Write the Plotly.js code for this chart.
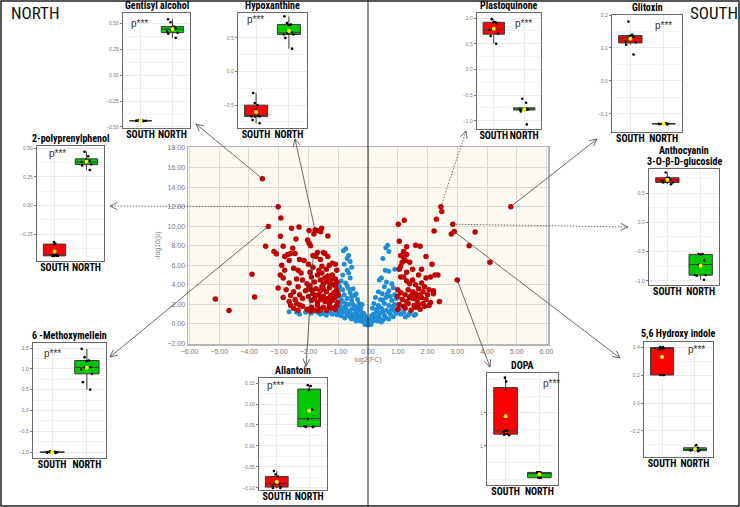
<!DOCTYPE html>
<html><head><meta charset="utf-8">
<script src="https://cdn.plot.ly/plotly-3.0.1.min.js"></script>
<style>html,body{margin:0;padding:0;background:#fff}#chart{width:740px;height:507px}</style>
</head><body><div id="chart"></div>
<script>
const W = 740, H = 507;

// ---------- volcano data: [log2(FC), -log10(p)] ----------
const redPoints = [
 [-3.55,14.85],[-3.02,12.0],[-2.93,10.85],[-3.35,9.97],[-2.94,8.98],[-3.44,7.95],[-2.85,7.95],[-3.16,7.4],[-3.08,7.17],
 [-3.9,5.08],[-3.81,2.76],[-3.02,3.69],[-5.13,2.56],[-4.67,1.37],
 [-2.57,9.8],[-2.32,9.93],[-2.42,8.7],[-2.03,8.6],[-1.98,9.56],[-1.78,9.62],[-1.59,9.42],[-1.56,9.8],[-1.35,9.0],[-1.98,8.26],[-1.93,7.99],[-1.82,9.2],[-1.72,9.55],
 [-2.53,7.75],[-2.6,7.2],[-2.7,7.1],[-2.45,7.2],[-2.8,6.9],[-2.3,6.6],[-2.15,6.5],[-1.85,7.0],[-1.75,6.9],[-1.7,7.3],[-1.5,7.3],[-1.45,7.2],[-1.35,6.9],[-1.6,6.6],[-1.2,6.2],[-1.05,5.5],[-1.3,6.0],[-1.55,5.9],[-2.9,6.0],[-2.65,6.5],[-2.5,5.7],[-2.0,6.1],[-1.85,5.8],[-2.35,5.5],[-2.8,5.5],[-1.4,5.6],[-1.1,6.1],[-1.65,5.5],
 [-2.85,4.7],[-2.65,4.2],[-2.4,4.6],[-2.2,4.5],[-2.05,4.1],[-1.9,4.8],[-1.8,4.3],[-1.7,5.0],[-1.6,4.5],[-1.5,4.1],[-1.45,4.7],[-1.35,4.9],[-1.3,4.2],[-1.25,4.5],[-1.15,4.0],[-1.1,4.6],[-1.05,4.3],[-2.25,5.2],[-1.95,5.3],[-1.55,5.2],[-1.2,5.0],[-1.4,4.4],[-2.95,5.0],
 [-2.75,3.5],[-2.6,2.9],[-2.5,3.3],[-2.45,2.5],[-2.35,3.8],[-2.3,3.0],[-2.2,2.6],[-2.1,3.4],[-2.0,2.8],[-1.95,3.9],[-1.9,2.4],[-1.85,3.1],[-1.8,2.6],[-1.75,3.6],[-1.7,2.2],[-1.65,3.0],[-1.6,2.5],[-1.55,3.8],[-1.5,2.8],[-1.45,2.3],[-1.4,3.3],[-1.35,2.6],[-1.3,3.7],[-1.25,2.9],[-1.2,2.4],[-1.15,3.2],[-1.1,2.7],[-1.05,3.5],[-1.02,2.2],[-1.0,3.0],[-2.85,2.7],[-2.65,2.3],[-2.0,3.6],[-1.6,3.4],[-1.3,2.1],[-1.75,2.9],[-2.4,2.1],[-1.9,3.5],[-1.1,3.9],[-1.5,3.6],
 [-2.5,1.6],[-2.35,1.4],[-2.2,1.8],[-2.05,1.5],[-1.9,1.7],[-1.8,1.4],[-1.7,1.9],[-1.6,1.5],[-1.5,1.7],[-1.4,1.4],[-1.3,1.8],[-1.2,1.6],[-1.1,1.5],[-1.05,1.9],[-2.6,1.9],[-2.3,1.95],[-1.95,1.3],[-1.65,1.35],
 [2.45,12.0],[2.48,11.5],[2.3,10.7],[1.22,10.6],[1.02,10.2],[2.22,9.5],[2.85,10.2],[2.9,9.45],[2.8,9.2],[3.6,9.4],[3.4,8.0],[4.1,6.3],[4.8,12.0],[3.0,4.5],[2.15,6.1],[2.4,2.3],
 [1.05,8.45],[1.3,7.9],[1.2,7.4],[1.6,8.05],[1.75,7.95],[1.95,6.9],[1.1,7.0],[1.2,6.8],[1.3,7.1],[1.25,6.5],[1.15,6.3],[1.4,6.3],[1.1,5.9],[1.05,5.6],[1.5,5.6],[1.8,5.6],[1.3,5.3],[1.2,4.8],[1.1,4.8],[2.25,5.0],[2.35,5.0],[2.1,4.8],[1.95,4.7],
 [1.4,4.1],[1.6,4.0],[1.8,4.2],[1.35,3.5],[1.5,3.3],[1.7,3.6],[1.9,3.8],[2.05,3.5],[2.2,3.4],[1.1,3.2],[1.25,3.0],[1.45,2.9],[1.6,3.1],[1.75,3.0],[1.85,3.3],[2.0,3.0],[2.2,3.1],
 [1.0,2.8],[1.15,2.5],[1.3,2.3],[1.5,2.6],[1.65,2.4],[1.8,2.7],[1.95,2.5],[2.1,2.2],[1.05,2.0],[1.2,1.8],[1.35,2.1],[1.55,1.9],[1.7,2.0],[1.9,1.8],[2.05,1.9],[1.0,1.5],[1.25,1.6],[1.45,1.4],[1.6,1.7],[1.75,1.5],[1.85,2.1],[1.4,2.7],[1.65,2.8],[1.5,4.5],[1.7,5.0],[1.3,4.4],[1.0,3.5]
];
const bluePoints = [
 [-0.75,7.7],[-0.83,7.5],[-0.65,7.0],[-0.7,6.7],[-0.6,6.4],[-0.8,6.1],[-0.55,5.8],[-0.7,5.5],[-0.65,5.2],[-0.85,5.0],[-0.6,4.7],[-0.9,4.4],[-0.75,4.2],[-1.0,4.1],[-0.95,3.8],[-0.7,3.9],[-0.5,3.6],[-0.85,3.5],[-1.0,3.3],[-0.6,3.2],[-0.8,3.0],[-0.45,2.9],[-0.95,2.8],[-0.7,2.6],[-0.35,2.5],[-0.55,2.4],[-0.85,2.3],[-0.3,2.1],[-0.65,2.0],[-0.95,1.9],[-0.45,1.8],[-0.25,1.6],[-0.75,1.6],[-0.55,1.5],[-0.9,1.4],
 [-1.1,1.3],[-1.3,1.2],[-1.5,1.1],[-1.7,1.2],[-1.9,1.1],[-2.1,1.2],[-2.3,1.0],[-2.65,1.25],[-2.0,1.35],[-1.6,1.0],[-1.2,1.0],[-1.0,1.15],[-0.8,1.2],[-0.6,1.1],[-0.4,1.2],[-0.2,1.0],[-0.35,0.9],[-0.5,0.8],[-0.7,0.9],[-0.9,0.85],[-1.05,0.95],[-1.4,0.9],
 [-0.15,0.7],[-0.3,0.6],[-0.45,0.65],[-0.6,0.7],[-0.1,0.4],[-0.2,0.45],[-0.35,0.4],[-0.05,0.2],[-0.15,0.25],[-0.25,0.3],[0.0,0.1],[-0.08,0.15],[-0.4,1.4],[-0.5,2.0],[-0.25,1.3],[-0.15,1.1],[-0.65,1.3],[-0.8,1.7],[-1.0,1.6],[-1.15,1.7],[-1.25,1.5],[-0.1,0.8],[-0.3,1.7],[-0.2,2.0],[-0.55,2.8],[-0.4,3.1],[-0.65,3.6],[-0.75,2.1],[-0.9,2.5],[-0.35,1.5],[-0.05,0.5],[-0.12,0.9],[-1.8,1.4],[-2.4,1.2],[-1.35,1.35],[-0.95,1.1],[-0.78,0.6],[-0.55,0.5],[-0.22,0.75],[-0.02,0.3],[-0.4,0.3],[-0.55,1.0],
 [0.6,7.8],[0.66,8.05],[0.7,7.4],[0.5,6.7],[0.58,5.5],[0.7,5.4],[0.9,5.6],[0.45,4.7],[0.38,4.5],[0.62,4.3],[0.8,4.1],[0.55,3.8],[0.85,3.7],[0.35,3.3],[0.48,3.1],[0.7,3.4],[0.9,3.0],[0.25,2.7],[0.42,2.5],[0.6,2.7],[0.8,2.4],[0.95,2.6],[0.2,2.1],[0.35,1.9],[0.55,2.1],[0.7,1.9],[0.9,2.0],[0.15,1.6],[0.3,1.5],[0.45,1.6],[0.62,1.4],[0.8,1.5],[1.0,1.3],[1.2,1.2],[1.4,1.1],[1.55,0.9],[1.6,1.0],[1.25,0.7],[1.1,1.0],[0.95,1.1],[0.75,1.0],[0.55,0.9],[0.35,0.8],[0.2,0.7],[0.1,0.5],[0.25,0.45],[0.4,0.55],[0.6,0.6],[0.85,0.75],[0.05,0.2],[0.15,0.3],[0.3,0.3],[0.5,0.4],[0.02,0.1],[0.75,2.8],[0.65,3.1],[0.5,2.4],[0.28,1.2],[0.4,1.1],[0.18,1.0],[0.5,1.3],[0.7,1.25],[0.9,1.3],[1.05,1.5],[0.12,0.85],[0.45,0.2],[0.7,0.5],[1.35,0.9],[0.85,1.8],
 [0.0,-0.1],[-0.05,0.0],[0.05,0.0],[0.1,-0.05],[-0.1,-0.05]
];

// ---------- inset box-plot data ----------
const groups = ['SOUTH','NORTH'];
const gentisylSouth = [-0.44,-0.44,-0.445,-0.44,-0.435,-0.44,-0.44,-0.44,-0.44];
const gentisylNorth = [0.36,0.40,0.41,0.42,0.44,0.45,0.46,0.47,0.51,0.54];
const hypoxSouth = [-0.77,-0.72,-0.67,-0.67,-0.67,-0.66,-0.57,-0.5,-0.47,-0.32];
const hypoxNorth = [0.34,0.5,0.55,0.55,0.57,0.58,0.69,0.7,0.72,0.82];
const plastoSouth = [0.5,0.65,0.7,0.77,0.78,0.9,0.92,0.92,0.98];
const plastoNorth = [-1.07,-0.82,-0.78,-0.78,-0.78,-0.78,-0.78,-0.65,-0.57];
const glitoxinSouth = [0.08,0.11,0.117,0.12,0.13,0.135,0.137,0.14,0.18];
const glitoxinNorth = [-0.132,-0.13,-0.13,-0.13,-0.128,-0.13,-0.131,-0.129];
const polyprenylSouth = [-0.44,-0.44,-0.44,-0.44,-0.44,-0.43,-0.34,-0.33,-0.32];
const polyprenylNorth = [0.31,0.35,0.36,0.38,0.38,0.39,0.40,0.43,0.47];
const anthoSouth = [0.65,0.68,0.68,0.7,0.72,0.73,0.76,0.76,0.85];
const anthoNorth = [-0.98,-0.91,-0.9,-0.9,-0.72,-0.65,-0.55,-0.54,-0.54];
const methoxySouth = [-1.02,-1.0,-1.0,-1.0,-1.0,-1.0,-0.99,-0.98,-1.01];
const methoxyNorth = [0.5,0.68,0.88,0.98,1.03,1.04,1.18,1.2,1.28,1.48];
const allantoinSouth = [-0.1,-0.1,-0.098,-0.095,-0.09,-0.09,-0.085,-0.073,-0.068,-0.06];
const allantoinNorth = [0.045,0.046,0.046,0.047,0.065,0.087,0.133,0.143,0.145];
const dopaSouth = [0.66,0.67,0.68,0.71,0.73,0.73,1.35,1.47,1.53];
const dopaNorth = [0.02,0.02,0.02,0.1,0.1,0.1,0.1,0.1,0.1];
const hydroxySouth = [0.2,0.2,0.2,0.38,0.39,0.39,0.395,0.4,0.4];
const hydroxyNorth = [-0.345,-0.34,-0.34,-0.335,-0.33,-0.32,-0.32,-0.3];
const dopaTickVals = [0.5,1.0], dopaTickText = ['1','1'];

const FONT = 'Liberation Sans, Arial, sans-serif';
const NARROW = 'Liberation Sans Narrow, Roboto Condensed, DejaVu Sans Condensed, Liberation Sans, sans-serif';
const insets = [
 {title:['Gentisyl alcohol'], s:gentisylSouth, n:gentisylNorth, box:[123,190,13,128], yr:[-0.51,0.60], dt:0.25, fmt:'.2f', p:[129,23], from:[-3.55,14.85], tip:[196,124], dash:'solid'},
 {title:['Hypoxanthine'], s:hypoxSouth, n:hypoxNorth, box:[238,307,13,128], yr:[-0.84,0.87], dt:0.5, fmt:'.1f', p:[245,20], from:[-1.78,9.62], tip:[295,139], dash:'solid'},
 {title:['Plastoquinone'], s:plastoSouth, n:plastoNorth, box:[477,541,13,129], yr:[-1.16,1.1], dt:0.5, fmt:'.1f', p:[513,23], from:[2.45,12.0], tip:[466,131], dash:'dot'},
 {title:['Glitoxin'], s:glitoxinSouth, n:glitoxinNorth, box:[612,682,15,132], yr:[-0.155,0.2], dt:0.1, fmt:'.1f', p:[653,25], from:[4.8,12.0], tip:[597,139], dash:'solid'},
 {title:['2-polyprenylphenol'], s:polyprenylSouth, n:polyprenylNorth, box:[37,104,146,261], yr:[-0.485,0.52], dt:0.25, fmt:'.2f', p:[47,153], from:[-3.02,12.0], tip:[110,206], dash:'dot'},
 {title:['Anthocyanin','3-O-β-D-glucoside'], s:anthoSouth, n:anthoNorth, box:[649,719,169,285], yr:[-1.07,0.91], dt:0.5, fmt:'.1f', p:null, from:[2.85,10.2], tip:[628,227], dash:'dot'},
 {title:['6 -Methoxymellein'], s:methoxySouth, n:methoxyNorth, box:[33,106,343,458], yr:[-1.14,1.62], dt:0.5, fmt:'.1f', p:[42,353], from:[-3.35,9.97], tip:[110,357], dash:'solid'},
 {title:['Allantoin'], s:allantoinSouth, n:allantoinNorth, box:[259,327,378,490], yr:[-0.105,0.162], dt:0.05, fmt:'.2f', p:[265,385], from:[-1.84,7.0], tip:[306,366], dash:'solid'},
 {title:['DOPA'], s:dopaSouth, n:dopaNorth, box:[487,558,373,485], yr:[-0.09,1.6], tv:dopaTickVals, tt:dopaTickText, dt:0.5, fmt:'', p:[541,383], from:[3.0,4.5], tip:[490,367], dash:'solid'},
 {title:['5,6 Hydroxy indole'], s:hydroxySouth, n:hydroxyNorth, box:[644,713,342,457], yr:[-0.386,0.436], dt:0.2, fmt:'.1f', p:[686,349], from:[2.9,9.45], tip:[620,358], dash:'solid'}
];

const px = p => p / W, py = p => 1 - p / H;
const MAIN = {x0:188, x1:548, y0:147, y1:344, xr:[-6.05,6.05], yr:[-2.05,18.1]};
const dataPx = (x, y) => [MAIN.x0 + (x - MAIN.xr[0]) / (MAIN.xr[1] - MAIN.xr[0]) * (MAIN.x1 - MAIN.x0),
                          MAIN.y1 - (y - MAIN.yr[0]) / (MAIN.yr[1] - MAIN.yr[0]) * (MAIN.y1 - MAIN.y0)];

const data = [];
const layout = {
  width: W, height: H, margin:{l:0,r:0,t:0,b:0}, paper_bgcolor:'#fff', plot_bgcolor:'rgba(0,0,0,0)',
  showlegend:false, boxmode:'overlay', font:{family:FONT},
  annotations:[], shapes:[]
};

// main volcano
data.push({type:'scatter', mode:'markers', x:bluePoints.map(p=>p[0]), y:bluePoints.map(p=>p[1]),
  marker:{color:'#1f8dd6', size:5}, xaxis:'x', yaxis:'y', hoverinfo:'skip'});
data.push({type:'scatter', mode:'markers', x:redPoints.map(p=>p[0]), y:redPoints.map(p=>p[1]),
  marker:{color:'#c00000', size:5.5}, xaxis:'x', yaxis:'y', hoverinfo:'skip'});
layout.xaxis = {domain:[px(MAIN.x0), px(MAIN.x1)], range:MAIN.xr, anchor:'y', tick0:0, dtick:1, tickformat:'.2f',
  showgrid:true, gridcolor:'#d9d9d9', zeroline:false, showline:true, mirror:true, linecolor:'#b5b5b5', linewidth:1.5,
  ticks:'', tickfont:{size:7, color:'#777'}, title:{text:'log2(FC)', font:{size:7, color:'#777'}, standoff:3}};
layout.yaxis = {domain:[py(MAIN.y1), py(MAIN.y0)], range:MAIN.yr, anchor:'x', tick0:0, dtick:2, tickformat:'.2f',
  showgrid:true, gridcolor:'#d9d9d9', zeroline:false, showline:true, mirror:true, linecolor:'#b5b5b5', linewidth:1.5,
  ticks:'', tickfont:{size:7, color:'#777'}, title:{text:'-log10(p)', font:{size:7, color:'#777'}, standoff:6}};
layout.shapes.push({type:'rect', xref:'x', yref:'y', x0:MAIN.xr[0], x1:MAIN.xr[1], y0:MAIN.yr[0], y1:MAIN.yr[1],
  fillcolor:'#fdfbf1', line:{width:0}, layer:'below'});

const mean = a => a.reduce((s,v)=>s+v,0)/a.length;

insets.forEach((ins, i) => {
  const k = i + 2, xa = 'x'+k, ya = 'y'+k;
  const [x0,x1,y0,y1] = ins.box;
  layout['xaxis'+k] = {domain:[px(x0), px(x1)], anchor:ya, type:'category', categoryorder:'array', categoryarray:groups,
    range:[-0.55,1.55], showgrid:true, gridcolor:'#ebebeb', zeroline:false, showline:true, mirror:true,
    linecolor:'#6a6a6a', linewidth:1.2, ticks:'', tickangle:0, ticklabelstandoff:-3,
    tickfont:{size:10, color:'#000', family:NARROW, weight:'bold'}, fixedrange:true};
  const yax = {domain:[py(y1), py(y0)], anchor:xa, range:ins.yr, showgrid:true, gridcolor:'#ebebeb', zeroline:false,
    showline:true, mirror:true, linecolor:'#6a6a6a', linewidth:1.2, ticks:'outside', ticklen:2, tickcolor:'#777',
    tickfont:{size:5, color:'#777'}, minor:{dtick:ins.dt/2, showgrid:true, gridcolor:'#f3f3f3'}, fixedrange:true};
  if (ins.tv) { yax.tickmode='array'; yax.tickvals=ins.tv; yax.ticktext=ins.tt; yax.minor.tick0=0; }
  else { yax.tick0=0; yax.dtick=ins.dt; yax.tickformat=ins.fmt; yax.minor.tick0=0; }
  layout['yaxis'+k] = yax;

  [[groups[0], ins.s, '#ff0000'], [groups[1], ins.n, '#00c800']].forEach(([g, vals, col]) => {
    data.push({type:'box', x:vals.map(()=>g), y:vals, xaxis:xa, yaxis:ya, boxpoints:'all', jitter:0.6, pointpos:0,
      fillcolor:col, line:{color:'#3a3a3a', width:1}, whiskerwidth:0, width:0.7,
      marker:{color:'#000', size:2.6}, hoverinfo:'skip'});
    data.push({type:'scatter', mode:'markers', x:[g], y:[mean(vals)], xaxis:xa, yaxis:ya,
      marker:{color:'#ffff00', size:4}, hoverinfo:'skip'});
  });

  const nL = ins.title.length;
  ins.title.forEach((line, j) => {
    layout.annotations.push({xref:'paper', yref:'paper', x:px((x0+x1)/2), y:py(y0 - 1 - (nL-1-j)*10.5), xanchor:'center', yanchor:'bottom',
      text:'<b>'+line+'</b>', showarrow:false, font:{size:10, color:'#000', family:NARROW}, borderpad:0});
  });
  if (ins.p) layout.annotations.push({xref:'paper', yref:'paper', x:px(ins.p[0]), y:py(ins.p[1]), xanchor:'left', yanchor:'middle',
    text:'p***', showarrow:false, font:{size:10, color:'#333', family:FONT}});

  // connector arrow from volcano point to inset
  const [sx, sy] = dataPx(ins.from[0], ins.from[1]);
  const [tx, ty] = ins.tip;
  layout.shapes.push({type:'line', xref:'paper', yref:'paper', x0:px(sx), y0:py(sy), x1:px(tx), y1:py(ty),
    line:{color:'#444', width:0.8, dash:ins.dash === 'dot' ? '1.5px,1.5px' : 'solid'}});
  const ang = Math.atan2(ty - sy, tx - sx), L = 8, spread = 0.45;
  [ang + Math.PI - spread, ang + Math.PI + spread].forEach(a => {
    layout.shapes.push({type:'line', xref:'paper', yref:'paper', x0:px(tx), y0:py(ty),
      x1:px(tx + L*Math.cos(a)), y1:py(ty + L*Math.sin(a)), line:{color:'#444', width:0.8}});
  });
});

// frame, divider and region labels
layout.shapes.push({type:'line', xref:'paper', yref:'paper', x0:px(368), x1:px(368), y0:0, y1:1, line:{color:'#222', width:1}, layer:'above'});
layout.shapes.push({type:'rect', xref:'paper', yref:'paper', x0:px(1), x1:px(739), y0:py(506), y1:py(1), line:{color:'#222', width:1.5}, fillcolor:'rgba(0,0,0,0)'});
layout.annotations.push({xref:'paper', yref:'paper', x:px(9), y:py(13), xanchor:'left', yanchor:'middle', text:'NORTH', showarrow:false, font:{size:17, color:'#111', family:NARROW}});
layout.annotations.push({xref:'paper', yref:'paper', x:px(688), y:py(13), xanchor:'left', yanchor:'middle', text:'SOUTH', showarrow:false, font:{size:17, color:'#111', family:NARROW}});

Plotly.newPlot('chart', data, layout, {staticPlot:true});
</script></body></html>
